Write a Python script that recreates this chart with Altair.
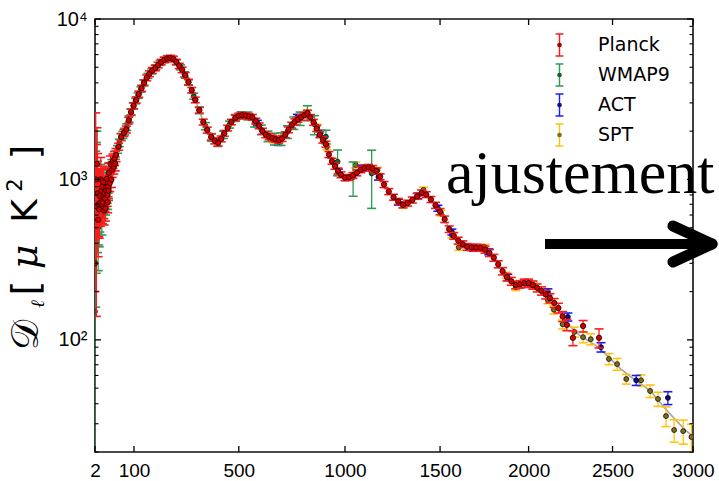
import altair as alt
import pandas as pd

# ---------------- data ----------------
x_tick_labels = [2, 100, 500, 1000, 1500, 2000, 2500, 3000]
y_major = [100, 1000, 10000]
y_minor = [20, 30, 40, 50, 60, 70, 80, 90, 200, 300, 400, 500, 600, 700, 800, 900,
           2000, 3000, 4000, 5000, 6000, 7000, 8000, 9000]

# best-fit model curve
fit_ell = [2, 3, 4, 6, 8, 10, 13, 16, 20, 25, 30, 35, 40, 47, 55, 62, 70, 77, 84, 91, 99, 107, 115, 124,
           132, 141, 150, 160, 170, 180, 191, 202, 213, 224, 235, 246, 257, 268, 280, 292, 305, 319, 335,
           351, 367, 383, 398, 412, 425, 438, 452, 468, 485, 500, 515, 530, 545, 560, 575, 590, 605, 620,
           635, 650, 665, 680, 695, 710, 725, 740, 755, 770, 785, 800, 815, 830, 845, 860, 875, 890, 905,
           920, 935, 950, 965, 980, 1000, 1025, 1050, 1075, 1100, 1125, 1150, 1175, 1200, 1225, 1250,
           1275, 1300, 1325, 1350, 1375, 1400, 1425, 1450, 1475, 1500, 1525, 1550, 1575, 1600, 1650,
           1700, 1750, 1800, 1850, 1900, 1950, 2000, 2050, 2100, 2150, 2200, 2250, 2300, 2350, 2400,
           2450, 2500, 2550, 2600, 2650, 2700, 2750, 2800, 2850, 2900, 2950, 3000]
fit_D = [1050, 960, 900, 850, 830, 830, 850, 880, 930, 1000, 1080, 1170, 1260, 1390, 1600, 1840, 1950,
         2060, 2330, 2630, 2880, 3130, 3400, 3700, 4000, 4300, 4560, 4780, 4960, 5170, 5390, 5560, 5680,
         5720, 5630, 5400, 5100, 4800, 4450, 4050, 3600, 3130, 2700, 2290, 2030, 1840, 1740, 1700, 1780,
         1930, 2090, 2270, 2410, 2490, 2515, 2500, 2470, 2420, 2310, 2160, 2010, 1910, 1850, 1810, 1780,
         1770, 1810, 1900, 2040, 2170, 2290, 2370, 2440, 2510, 2560, 2450, 2270, 2080, 1900, 1760, 1640,
         1440, 1300, 1210, 1130, 1070, 1030, 1035, 1075, 1130, 1175, 1185, 1160, 1060, 930, 840, 775,
         730, 700, 712, 745, 785, 820, 805, 750, 690, 630, 565, 490, 445, 416, 382, 376, 365, 326, 268,
         232, 222, 225, 211, 192, 170, 140, 120, 107, 99, 92, 83, 74, 66, 60, 55, 51, 46, 40, 35, 31,
         27.5, 25]

# Planck low-ell (unbinned)
planck_low_ell = list(range(2, 31)) + [32, 34, 36, 38, 40, 42, 44, 46, 48]
planck_low_D = [300, 1000, 680, 1250, 820, 560, 700, 650, 790, 720, 1000, 850, 700, 900, 720, 960, 780,
                640, 820, 760, 660, 860, 900, 1010, 800, 720, 900, 850, 1100, 950, 1250, 1000, 1150, 1300,
                1200, 1350, 1250, 1420]
planck_low_lo = [200, 430, 140, 640, 430, 330, 440, 430, 540, 510, 730, 630, 530, 700, 570, 760, 630,
                 520, 670, 630, 550, 720, 760, 860, 680, 620, 780, 740, 960, 840, 1110, 890, 1030, 1170,
                 1080, 1220, 1130, 1290]
planck_low_hi = [1035, 2600, 1650, 2100, 1450, 980, 1120, 1000, 1150, 1030, 1370, 1150, 930, 1170, 930,
                 1210, 980, 800, 1000, 920, 800, 1020, 1060, 1180, 940, 840, 1040, 980, 1260, 1070, 1400,
                 1120, 1280, 1440, 1330, 1490, 1380, 1560]

# Planck binned
planck_ell = [55, 62, 70, 77, 84, 91, 99, 107, 115, 124, 132, 141, 150, 160, 170, 180, 191, 202, 213, 224,
              235, 246, 257, 268, 280, 292, 305, 319, 335, 351, 367, 383, 398, 412, 425, 438, 452, 468,
              485, 500, 515, 530, 545, 560, 575, 590, 605, 620, 635, 650, 665, 680, 695, 710, 725, 740,
              755, 770, 785, 800, 815, 830, 845, 860, 875, 890, 905, 920, 935, 950, 965, 980, 1000, 1020,
              1040, 1060, 1080, 1100, 1120, 1140, 1160, 1180, 1200, 1225, 1250, 1275, 1300, 1325, 1350,
              1375, 1400, 1425, 1450, 1475, 1500, 1525, 1550, 1575, 1600, 1625, 1650, 1675, 1700, 1725,
              1750, 1775, 1800, 1825, 1850, 1875, 1900, 1925, 1950, 1975, 2000, 2025, 2050, 2075, 2100,
              2125, 2150, 2175, 2200, 2225, 2261, 2322, 2418]
planck_D = [1600, 1840, 1950, 2050, 2330, 2630, 2880, 3130, 3400, 3700,
            4000, 4300, 4560, 4780, 4950, 5170, 5395, 5560, 5680, 5720,
            5620, 5400, 5100, 4820, 4460, 4050, 3600, 3130, 2700, 2280,
            2030, 1840, 1740, 1690, 1790, 1940, 2090, 2280, 2420, 2490,
            2515, 2500, 2470, 2440, 2310, 2160, 2000, 1900, 1850, 1810,
            1780, 1760, 1800, 1900, 2040, 2180, 2290, 2370, 2440, 2520,
            2590, 2440, 2270, 2080, 1900, 1760, 1660, 1430, 1300, 1210,
            1130, 1070, 1025, 1030, 1060, 1100, 1150, 1180, 1190, 1170,
            1130, 1040, 930, 840, 775, 730, 695, 712, 745, 785,
            825, 805, 750, 690, 630, 565, 490, 445, 416, 395,
            380, 377, 376, 375, 365, 348, 325, 296, 268, 246,
            232, 220, 222, 226, 226, 220, 211, 202, 192, 182,
            170, 158, 140, 124, 103, 122, 103]
planck_err = [80, 90, 95, 100, 110, 120, 130, 140, 150, 160,
              170, 180, 190, 200, 200, 210, 210, 220, 220, 220,
              220, 210, 200, 190, 180, 160, 140, 125, 110, 95,
              85, 80, 75, 75, 75, 80, 85, 90, 95, 100,
              100, 100, 100, 100, 95, 90, 85, 80, 80, 75,
              75, 75, 75, 80, 85, 90, 95, 95, 100, 100,
              105, 100, 95, 90, 80, 75, 70, 62, 56, 52,
              48, 45, 44, 44, 45, 47, 49, 50, 50, 50,
              48, 44, 40, 36, 33, 31, 30, 30, 32, 33,
              35, 34, 32, 30, 28, 26, 23, 21, 20, 19,
              18, 18, 18, 18, 18, 17, 16, 15, 14, 13,
              13, 12, 12, 13, 13, 13, 12, 12, 12, 12,
              11, 11, 10, 10, 11, 10, 14]

# WMAP9 low-ell (unbinned)
wmap_low_ell = list(range(2, 31))
wmap_low_D = [150, 650, 820, 1100, 760, 500, 660, 600, 700, 860, 950, 880, 600, 920, 680, 900, 760, 700,
              860, 800, 720, 900, 940, 1020, 830, 760, 950, 880, 1120]
wmap_low_lo = [5, 160, 260, 460, 350, 270, 390, 380, 470, 610, 700, 660, 450, 720, 530, 720, 610, 570,
               710, 660, 600, 760, 800, 870, 710, 650, 820, 760, 980]
wmap_low_hi = [700, 1500, 1700, 2000, 1300, 850, 1000, 880, 990, 1150, 1240, 1130, 780, 1150, 860, 1100,
               930, 850, 1030, 950, 860, 1060, 1100, 1180, 960, 880, 1090, 1010, 1270]

# WMAP9 binned
wmap_ell = [33, 37, 42, 47, 52, 57, 62, 67, 72, 78, 85, 91, 98, 105, 113, 122, 132, 145, 158, 172,
            187, 202, 217, 232, 247, 262, 277, 293, 313, 335, 360, 385, 410, 435, 460, 485, 510, 540,
            570, 600, 630, 660, 690, 720, 750, 780, 815, 850, 905, 963, 1041, 1136]
wmap_D = [1180, 1250, 1330, 1420, 1540, 1690, 1840, 1900, 1990, 2120,
          2380, 2630, 2880, 3080, 3330, 3640, 4020, 4420, 4720, 5000,
          5330, 5560, 5700, 5670, 5380, 5000, 4520, 4020, 3300, 2700,
          2150, 1830, 1700, 1900, 2200, 2420, 2510, 2490, 2260, 2040,
          1860, 1790, 1790, 1980, 2250, 2400, 2600, 2200, 1846, 1290,
          1035, 1090]
wmap_err = [80, 80, 80, 85, 85, 90, 90, 95, 95, 100,
            105, 110, 115, 120, 130, 140, 150, 160, 170, 180,
            190, 200, 200, 200, 190, 180, 170, 160, 140, 130,
            110, 100, 95, 100, 110, 120, 130, 140, 140, 140,
            140, 150, 160, 180, 200, 230, 280, 300, 180, 235,
            250, 430]

# ACT
act_ell = [582, 678, 767, 879, 967, 1089, 1171, 1276, 1380, 1488, 1565, 1686, 1772, 1880, 2000, 2113,
           2231, 2430, 2645, 2842]
act_D = [2244, 1700, 2445, 1943, 1110, 1177, 1035, 722, 790, 662, 470, 373, 354, 245, 222, 199, 139, 90,
         56, 43.5]
act_err = [90, 70, 100, 80, 50, 50, 45, 30, 32, 28, 20, 16, 15, 11, 10, 9, 8, 6, 4, 4]

# SPT
spt_ell = [655, 815, 863, 910, 1054, 1166, 1300, 1410, 1505, 1565, 1603, 1752, 1869, 1926, 2028, 2113,
           2148, 2200, 2270, 2322, 2368, 2478, 2528, 2584, 2675, 2731, 2780, 2830, 2881, 2938, 2990]
spt_D = [1760, 2620, 2126, 1594, 1230, 1142, 690, 860, 616, 450, 377, 377, 253, 213, 218, 177, 154, 125,
         112, 104, 101, 76, 70.6, 57, 56, 48, 42.8, 33.5, 27.4, 27, 24.8]
spt_err = [70, 100, 85, 65, 50, 45, 28, 35, 25, 18, 16, 16, 11, 10, 10, 9, 9, 8, 8, 8, 8, 6, 6, 4, 4.5,
           4.3, 4.3, 4.7, 4.4, 4.6, 5]

legend_names = ["Planck", "WMAP9", "ACT", "SPT"]
bar_colors = ["#ff1a1a", "#2e9a55", "#1a1aff", "#ffc20e"]
dot_colors = ["#d00000", "#1c5e33", "#10107a", "#7d6e26"]
legend_dot_colors = ["#a00000", "#1c5e33", "#10107a", "#7d6e26"]
edge_colors = ["#300000", "#0b2614", "#000030", "#1e1a08"]

# y-axis title glyphs (stretched in the reference, so placed one by one)
ytitle_glyphs = ["𝒟", "ℓ", "[", "μ", "K", "2", "]"]

# ---------------- tables ----------------
def sym(ell, D, err):
    return pd.DataFrame({"ell": ell, "D": D,
                         "lo": [d - e for d, e in zip(D, err)],
                         "hi": [d + e for d, e in zip(D, err)]})

planck_df = pd.concat([pd.DataFrame({"ell": planck_low_ell, "D": planck_low_D,
                                     "lo": planck_low_lo, "hi": planck_low_hi}),
                       sym(planck_ell, planck_D, planck_err)], ignore_index=True)
wmap_df = pd.concat([pd.DataFrame({"ell": wmap_low_ell, "D": wmap_low_D,
                                   "lo": wmap_low_lo, "hi": wmap_low_hi}),
                     sym(wmap_ell, wmap_D, wmap_err)], ignore_index=True)
act_df = sym(act_ell, act_D, act_err)
spt_df = sym(spt_ell, spt_D, spt_err)
fit_df = pd.DataFrame({"ell": fit_ell, "D": fit_D})

# ---------------- scales / axes ----------------
xs = alt.Scale(type="pow", exponent=0.79, domain=[2, 3000], nice=False, zero=False)
ys = alt.Scale(type="log", domain=[20, 10000], nice=False)
xaxis = alt.Axis(values=x_tick_labels, title=None, ticks=False, domain=False, grid=False,
                 labelFontSize=19, labelFont="Liberation Sans", labelColor="black",
                 labelPadding=9, labelFlush=False, labelOverlap=False, format="d")
yaxis = alt.Axis(values=y_major, title=None, ticks=False, domain=False, grid=False,
                 labelFontSize=20, labelFont="Liberation Sans", labelColor="black",
                 labelPadding=8, labelFlush=False, labelOverlap=False,
                 labelExpr="datum.value == 100 ? '10²' : datum.value == 1000 ? '10³' : '10⁴'")


def X(f):
    return alt.X(f"{f}:Q", scale=xs, axis=xaxis)


def Y(f):
    return alt.Y(f"{f}:Q", scale=ys, axis=yaxis)


def series(df, bar, fill, edge, size=24):
    base = alt.Chart(df)
    bars = base.mark_rule(color=bar, strokeWidth=1.3, clip=True).encode(x=X("ell"), y=Y("lo"), y2="hi")
    cap_lo = base.mark_tick(orient="horizontal", size=9, thickness=1.6, color=bar, opacity=1,
                            clip=True).encode(x=X("ell"), y=Y("lo"))
    cap_hi = base.mark_tick(orient="horizontal", size=9, thickness=1.6, color=bar, opacity=1,
                            clip=True).encode(x=X("ell"), y=Y("hi"))
    pts = base.mark_point(filled=True, fill=fill, stroke=edge, strokeWidth=0.9, size=size, opacity=1,
                          fillOpacity=1, clip=True).encode(x=X("ell"), y=Y("D"))
    return [bars, cap_lo, cap_hi, pts]


fit_line = alt.Chart(fit_df).mark_line(color="#9a9a9a", strokeWidth=1.6, opacity=0.9, clip=True).encode(
    x=X("ell"), y=Y("D"))

xt = pd.DataFrame({"v": x_tick_labels})
ymaj = pd.DataFrame({"v": y_major})
ymin = pd.DataFrame({"v": y_minor})
tick_layers = [
    alt.Chart(xt).mark_rule(color="black", strokeWidth=1.3).encode(x=X("v"), y=alt.value(433), y2=alt.value(427)),
    alt.Chart(xt).mark_rule(color="black", strokeWidth=1.3).encode(x=X("v"), y=alt.value(0), y2=alt.value(6)),
    alt.Chart(ymaj).mark_rule(color="black", strokeWidth=1.3).encode(y=Y("v"), x=alt.value(0), x2=alt.value(6)),
    alt.Chart(ymaj).mark_rule(color="black", strokeWidth=1.3).encode(y=Y("v"), x=alt.value(598), x2=alt.value(592)),
    alt.Chart(ymin).mark_rule(color="black", strokeWidth=1.1).encode(y=Y("v"), x=alt.value(0), x2=alt.value(3.5)),
    alt.Chart(ymin).mark_rule(color="black", strokeWidth=1.1).encode(y=Y("v"), x=alt.value(598), x2=alt.value(594.5)),
]

data_layer = alt.layer(
    fit_line,
    *series(spt_df, bar_colors[3], dot_colors[3], edge_colors[3]),
    *series(act_df, bar_colors[2], dot_colors[2], edge_colors[2]),
    *series(wmap_df, bar_colors[1], dot_colors[1], edge_colors[1]),
    *series(planck_df, bar_colors[0], dot_colors[0], edge_colors[0], size=28),
    *tick_layers,
)

# ---------------- legend + annotations ----------------
leg_df = pd.DataFrame({"name": legend_names, "bar": bar_colors, "dot": legend_dot_colors})
LY = alt.Y("name:N", sort=legend_names, scale=alt.Scale(type="point", range=[26, 116], padding=0), axis=None)
leg_base = alt.Chart(leg_df)
leg_bar = leg_base.mark_point(shape="M0,-1L0,1M-0.36,-1L0.36,-1M-0.36,1L0.36,1", size=484, filled=False,
                              strokeWidth=1.4, opacity=1).encode(
    y=LY, x=alt.value(464.5), stroke=alt.Color("bar:N", scale=None))
leg_dot = leg_base.mark_circle(size=22, opacity=1).encode(
    y=LY, x=alt.value(464.5), color=alt.Color("dot:N", scale=None))
leg_txt = leg_base.mark_text(align="left", baseline="middle", fontSize=19, font="DejaVu Sans",
                             color="black").encode(y=LY, x=alt.value(503), text="name:N")

one = pd.DataFrame({"t": ["ajustement"]})
ann = alt.Chart(one)
word = ann.mark_text(align="left", baseline="alphabetic", fontSize=62, font="Liberation Serif",
                     color="black").encode(text="t:N", x=alt.value(351), y=alt.value(174))
shaft = ann.mark_rule(color="black", strokeWidth=10, strokeCap="butt").encode(
    x=alt.value(450), x2=alt.value(612), y=alt.value(225), y2=alt.value(225))
arm1 = ann.mark_rule(color="black", strokeWidth=11, strokeCap="round").encode(
    x=alt.value(578), x2=alt.value(617), y=alt.value(207), y2=alt.value(225))
arm2 = ann.mark_rule(color="black", strokeWidth=11, strokeCap="round").encode(
    x=alt.value(578), x2=alt.value(617), y=alt.value(243), y2=alt.value(225))


def glyph(ch, cx, cy, size, font, style="normal"):
    return ann.mark_text(text=ch, angle=270, align="center", baseline="alphabetic", fontSize=size,
                         font=font, fontStyle=style, color="black").encode(
        x=alt.value(cx), y=alt.value(cy))


ytitle = [
    glyph(ytitle_glyphs[0], -57, 316, 38, "DejaVu Serif"),
    glyph(ytitle_glyphs[1], -51, 285, 19, "DejaVu Serif", "italic"),
    glyph(ytitle_glyphs[2], -57, 269, 38, "DejaVu Sans"),
    glyph(ytitle_glyphs[3], -58, 238, 38, "DejaVu Serif", "italic"),
    glyph(ytitle_glyphs[4], -58, 192, 36, "DejaVu Sans"),
    glyph(ytitle_glyphs[5], -73, 166, 21, "DejaVu Sans"),
    glyph(ytitle_glyphs[6], -57, 133, 38, "DejaVu Sans"),
]

overlay = alt.layer(leg_bar, leg_dot, leg_txt, word, shaft, arm1, arm2, *ytitle)

chart = alt.layer(data_layer, overlay).resolve_scale(y="independent").properties(
    width=598, height=433,
    autosize=alt.AutoSizeParams(type="none"),
    padding={"left": 95, "top": 19, "right": 26, "bottom": 29},
    background="white",
).configure_view(stroke="#111111", strokeWidth=1.6)

chart.save("out.html", embed_options={"renderer": "svg", "actions": False})
